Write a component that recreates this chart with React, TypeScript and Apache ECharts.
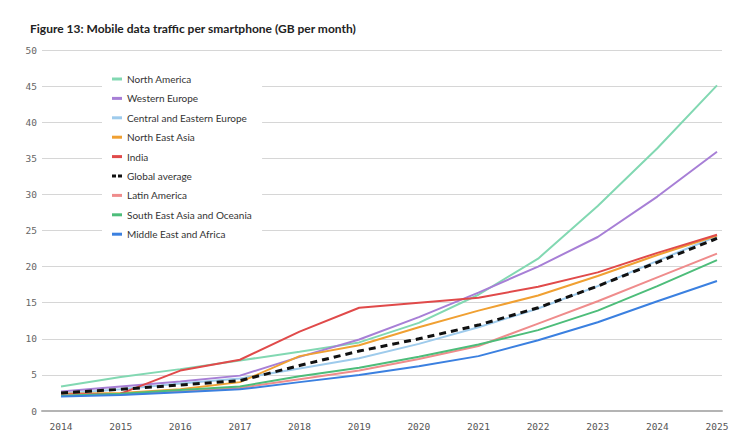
import React, { useEffect, useRef } from "react";
import * as echarts from "echarts";

const years = [2014, 2015, 2016, 2017, 2018, 2019, 2020, 2021, 2022, 2023, 2024, 2025];

const northAmerica = [3.4, 4.7, 5.8, 7.0, 8.2, 9.5, 12.2, 16.1, 21.1, 28.4, 36.4, 45.1];
const westernEurope = [2.7, 3.4, 4.1, 4.9, 7.5, 9.9, 13.0, 16.4, 20.0, 24.1, 29.7, 35.9];
const centralEasternEurope = [2.4, 3.0, 3.8, 4.5, 5.9, 7.3, 9.3, 11.6, 14.2, 17.3, 20.8, 24.2];
const northEastAsia = [2.4, 2.5, 3.0, 4.0, 7.6, 9.1, 11.6, 13.9, 16.0, 18.7, 21.6, 24.3];
const india = [2.3, 2.4, 5.6, 7.1, 11.0, 14.3, 15.0, 15.7, 17.2, 19.2, 21.9, 24.4];
const globalAverage = [2.5, 3.0, 3.6, 4.2, 6.3, 8.3, 10.0, 11.9, 14.3, 17.3, 20.6, 23.9];
const latinAmerica = [2.2, 2.3, 2.7, 3.2, 4.4, 5.6, 7.2, 9.0, 12.1, 15.2, 18.5, 21.8];
const southEastAsiaOceania = [2.1, 2.4, 2.9, 3.4, 4.8, 6.0, 7.5, 9.2, 11.2, 13.9, 17.3, 20.9];
const middleEastAfrica = [2.0, 2.2, 2.6, 3.0, 4.0, 5.0, 6.2, 7.6, 9.8, 12.3, 15.2, 18.0];

const yTicks = [0, 5, 10, 15, 20, 25, 30, 35, 40, 45, 50];

const seriesDefs = [
  { name: "North America", data: northAmerica, color: "#82d8b2" },
  { name: "Western Europe", data: westernEurope, color: "#a77fd6" },
  { name: "Central and Eastern Europe", data: centralEasternEurope, color: "#9ecbec" },
  { name: "North East Asia", data: northEastAsia, color: "#f0a032" },
  { name: "India", data: india, color: "#e04a4a" },
  { name: "Global average", data: globalAverage, color: "#111111", dashed: true },
  { name: "Latin America", data: latinAmerica, color: "#ef8c8c" },
  { name: "South East Asia and Oceania", data: southEastAsiaOceania, color: "#4dbd7a" },
  { name: "Middle East and Africa", data: middleEastAfrica, color: "#3b80e0" },
];

export default function App() {
  const ref = useRef<HTMLDivElement>(null);
  useEffect(() => {
    if (!ref.current) return;
    const chart = echarts.init(ref.current, undefined, { renderer: "svg" });
    const mono = "'DejaVu Sans Mono', monospace";
    chart.setOption({
      animation: false,
      backgroundColor: "#ffffff",
      title: {
        text: "Figure 13: Mobile data traffic per smartphone (GB per month)",
        left: 25,
        top: 17,
        textStyle: { fontFamily: "Lato", fontWeight: "bold", fontSize: 12, color: "#222" },
      },
      legend: {
        orient: "vertical",
        left: 102,
        top: 63,
        padding: [10, 10, 10, 10],
        backgroundColor: "#ffffff",
        itemGap: 7.4,
        itemWidth: 10,
        itemHeight: 3,
        z: 10,
        textStyle: { fontFamily: "Lato", fontSize: 10, color: "#333", lineHeight: 12 },
        data: seriesDefs.map((s) => ({
          name: s.name,
          icon: s.dashed ? "path://M0,0H4V3H0Z M6,0H10V3H6Z" : "rect",
        })),
      },
      grid: { left: 42, right: 28, top: 50, bottom: 33 },
      xAxis: {
        type: "value",
        min: 2013.681,
        max: 2025.084,
        axisLine: { show: true, lineStyle: { color: "#b4b4b4", width: 2 } },
        axisTick: { show: false },
        splitLine: { show: false },
        axisLabel: {
          customValues: years,
          formatter: (v: number) => String(v),
          fontFamily: mono,
          fontSize: 9.5,
          color: "#555",
          margin: 10,
        },
      },
      yAxis: {
        type: "value",
        min: 0,
        max: 50,
        interval: 5,
        axisLine: { show: false },
        axisTick: { show: false },
        splitLine: { lineStyle: { color: "#d6d6d6", width: 1 } },
        axisLabel: {
          customValues: yTicks,
          fontFamily: mono,
          fontSize: 9.5,
          color: "#666",
          margin: 5,
        },
      },
      series: seriesDefs.map((s) => ({
        name: s.name,
        type: "line",
        symbol: "none",
        z: s.dashed ? 5 : 2,
        data: years.map((y, i) => [y, s.data[i]]),
        itemStyle: { color: s.color },
        lineStyle: s.dashed
          ? { color: s.color, width: 3, type: [7, 5] }
          : { color: s.color, width: 2 },
      })),
    });
    return () => chart.dispose();
  }, []);
  return <div ref={ref} style={{ width: 750, height: 444, position: "absolute", left: 0, top: 0 }} />;
}
